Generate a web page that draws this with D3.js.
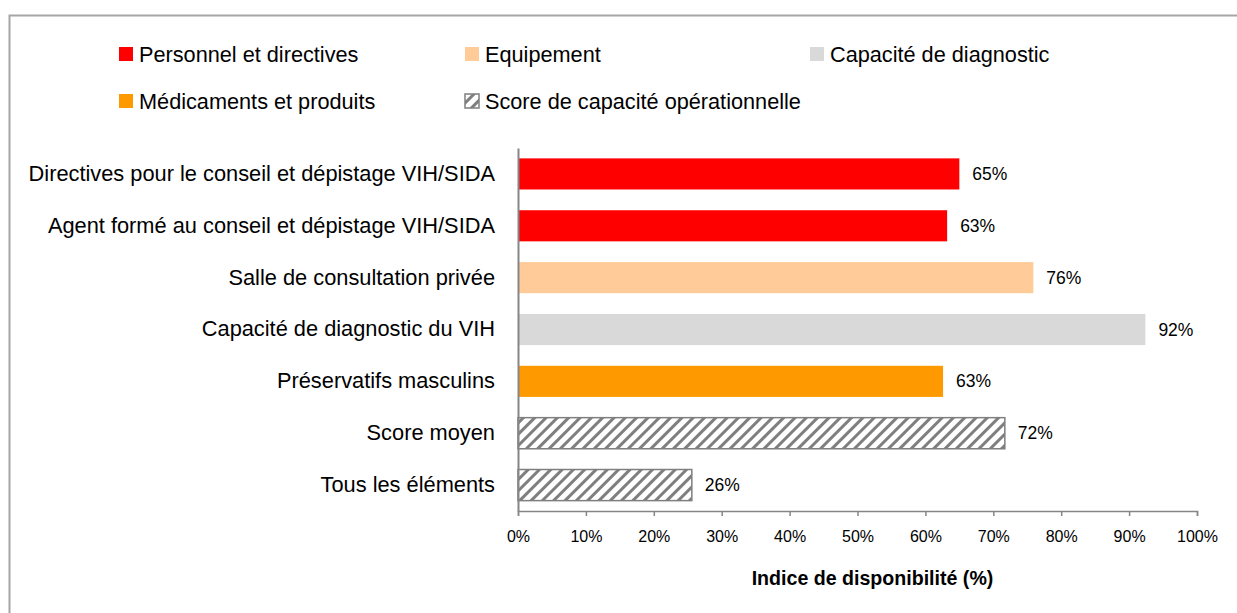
<!DOCTYPE html>
<html>
<head>
<meta charset="utf-8">
<script src="https://cdn.jsdelivr.net/npm/d3@7"></script>
<style>
  body { margin: 0; background: #fff; }
  svg text { font-family: "Liberation Sans Narrow", "Arial Narrow", "Liberation Sans", Arial, sans-serif; fill: #000; }
</style>
</head>
<body>
<div id="chart"></div>
<script>
document.addEventListener('DOMContentLoaded', function() {
    const width = 1237, height = 613;
    const margin = {top: 148, right: 40, bottom: 102, left: 518};

    // data
    const categories = [
        "Directives pour le conseil et dépistage VIH/SIDA",
        "Agent formé au conseil et dépistage VIH/SIDA",
        "Salle de consultation privée",
        "Capacité de diagnostic du VIH",
        "Préservatifs masculins",
        "Score moyen",
        "Tous les éléments"
    ];
    const values = [65.0, 63.2, 75.9, 92.4, 62.6, 71.7, 25.6];
    const groups = ["perso", "perso", "equip", "diag", "medic", "score", "score"];

    const legendLabels = [
        "Personnel et directives", "Equipement", "Capacité de diagnostic",
        "Médicaments et produits", "Score de capacité opérationnelle"
    ];
    const legendKeys = ["perso", "equip", "diag", "medic", "score"];
    const xTicks = [0, 10, 20, 30, 40, 50, 60, 70, 80, 90, 100];

    const colors = {perso: "#FF0000", equip: "#FFCC99", diag: "#D9D9D9", medic: "#FF9900", score: "url(#hatch)"};

    const svg = d3.select("#chart").append("svg")
        .attr("width", width)
        .attr("height", height);

    // hatch pattern for the score bars
    const pat = svg.append("defs").append("pattern")
        .attr("id", "hatch")
        .attr("patternUnits", "userSpaceOnUse")
        .attr("width", 8).attr("height", 8)
        .attr("patternTransform", "rotate(45)");
    pat.append("rect").attr("width", 8).attr("height", 8).attr("fill", "#fff");
    pat.append("rect").attr("width", 3).attr("height", 8).attr("fill", "#7f7f7f");

    // outer frame
    svg.append("rect")
        .attr("x", 9.5).attr("y", 15.5)
        .attr("width", width).attr("height", height)
        .attr("fill", "none")
        .attr("stroke", "#a6a6a6")
        .attr("stroke-width", 2);

    const x = d3.scaleLinear().domain([0, 100]).range([margin.left, 1197]);
    const y = d3.scaleBand().domain(categories)
        .range([margin.top, height - margin.bottom])
        .paddingInner(0.4).paddingOuter(0.2);

    // bars
    svg.selectAll(".bar")
        .data(categories)
        .enter()
        .append("rect")
        .attr("class", "bar")
        .attr("x", x(0))
        .attr("y", d => y(d))
        .attr("width", (d, i) => x(values[i]) - x(0))
        .attr("height", y.bandwidth())
        .attr("fill", (d, i) => colors[groups[i]])
        .attr("stroke", (d, i) => groups[i] === "score" ? "#7f7f7f" : "none")
        .attr("stroke-width", 1.5);

    // value labels
    svg.selectAll(".val")
        .data(categories)
        .enter()
        .append("text")
        .attr("class", "val")
        .attr("x", (d, i) => x(values[i]) + 13)
        .attr("y", d => y(d) + y.bandwidth() / 2)
        .attr("dy", "0.35em")
        .style("font-size", "17.5px")
        .text((d, i) => Math.round(values[i]) + "%");

    // y axis
    const yAxis = svg.append("g")
        .attr("transform", `translate(${x(0)},0)`)
        .call(d3.axisLeft(y).tickSize(0).tickPadding(23));
    yAxis.select(".domain").attr("stroke", "#868686").attr("stroke-width", 2);
    yAxis.selectAll("text").style("font-size", "21.8px");

    // x axis
    const xAxis = svg.append("g")
        .attr("transform", `translate(0,${height - margin.bottom})`)
        .call(d3.axisBottom(x).tickValues(xTicks).tickSize(5).tickSizeOuter(5)
            .tickFormat(d => d + "%").tickPadding(15));
    xAxis.select(".domain").attr("stroke", "#868686").attr("stroke-width", 1.5);
    xAxis.selectAll(".tick line").attr("stroke", "#868686").attr("stroke-width", 1.5);
    xAxis.selectAll("text").style("font-size", "16px");

    svg.append("text")
        .attr("x", (x(0) + x(100)) / 2 + 15)
        .attr("y", 585)
        .attr("text-anchor", "middle")
        .style("font-size", "19.6px")
        .style("font-weight", "bold")
        .text("Indice de disponibilité (%)");

    // legend
    const legendPos = [[119, 54], [465, 54], [810, 54], [119, 101], [465, 101]];
    const lg = svg.selectAll(".legend")
        .data(legendLabels)
        .enter()
        .append("g")
        .attr("class", "legend")
        .attr("transform", (d, i) => `translate(${legendPos[i][0]},${legendPos[i][1]})`);

    lg.append("rect")
        .attr("x", 0).attr("y", -7)
        .attr("width", 14).attr("height", 14)
        .attr("fill", (d, i) => colors[legendKeys[i]])
        .attr("stroke", (d, i) => legendKeys[i] === "score" ? "#7f7f7f" : "none")
        .attr("stroke-width", 1.5);

    lg.append("text")
        .attr("x", 20)
        .attr("dy", "0.35em")
        .style("font-size", "21.7px")
        .text(d => d);
});
</script>
</body>
</html>
